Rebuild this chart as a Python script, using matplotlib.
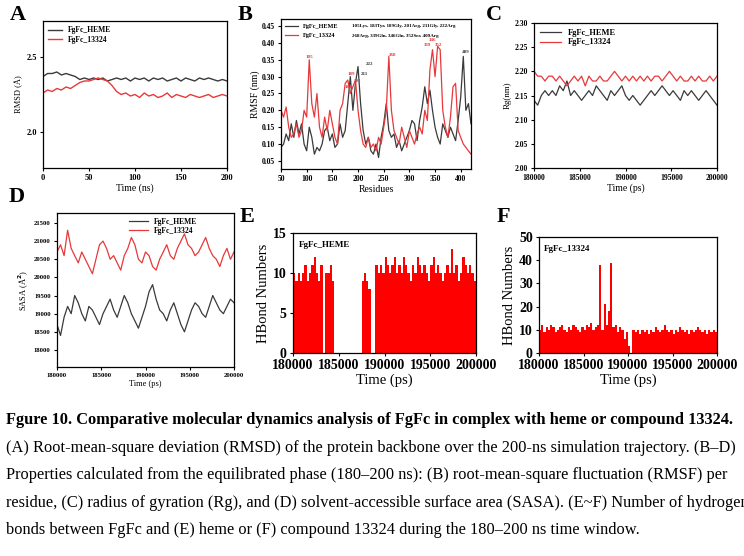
import numpy as np
import matplotlib.pyplot as plt

plt.rcParams['font.family'] = ['Liberation Serif', 'DejaVu Serif']
plt.rcParams['font.weight'] = 'bold'

# A: RMSD (every 5 ns)
rmsd_t = list(range(0, 201, 5))
rmsd_heme = [2.37,2.39,2.39,2.40,2.38,2.39,2.38,2.37,2.35,2.36,2.35,2.36,2.35,2.36,2.34,2.35,2.36,2.35,2.36,2.34,2.36,2.35,2.36,2.34,2.36,2.35,2.36,2.34,2.35,2.36,2.34,2.36,2.35,2.34,2.36,2.35,2.36,2.35,2.34,2.35,2.34]
rmsd_13324 = [2.26,2.28,2.27,2.29,2.28,2.30,2.29,2.31,2.33,2.34,2.34,2.35,2.36,2.35,2.34,2.31,2.27,2.25,2.26,2.24,2.25,2.23,2.26,2.24,2.25,2.23,2.24,2.26,2.23,2.25,2.24,2.23,2.25,2.24,2.23,2.24,2.25,2.23,2.24,2.25,2.24]

# B: RMSF (every 5 residues)
res = list(range(50, 421, 5))
rmsf_heme = [0.09,0.10,0.13,0.11,0.16,0.12,0.17,0.13,0.16,0.10,0.08,0.15,0.12,0.07,0.09,0.08,0.10,0.14,0.15,0.11,0.13,0.09,0.10,0.16,0.12,0.14,0.22,0.30,0.20,0.28,0.33,0.22,0.14,0.10,0.12,0.08,0.07,0.10,0.06,0.12,0.16,0.22,0.14,0.12,0.13,0.09,0.11,0.08,0.10,0.12,0.14,0.17,0.16,0.11,0.17,0.21,0.27,0.22,0.26,0.20,0.15,0.12,0.10,0.16,0.14,0.12,0.15,0.13,0.11,0.17,0.24,0.36,0.20,0.22,0.16]
rmsf_13324 = [0.20,0.18,0.21,0.15,0.12,0.13,0.16,0.12,0.14,0.20,0.18,0.35,0.22,0.18,0.25,0.15,0.12,0.18,0.14,0.20,0.16,0.12,0.10,0.20,0.22,0.28,0.29,0.25,0.27,0.29,0.20,0.14,0.10,0.09,0.12,0.09,0.10,0.08,0.12,0.10,0.15,0.20,0.36,0.20,0.14,0.12,0.10,0.15,0.12,0.09,0.14,0.12,0.10,0.13,0.15,0.13,0.20,0.17,0.32,0.38,0.30,0.39,0.38,0.20,0.15,0.12,0.18,0.27,0.28,0.14,0.12,0.10,0.09,0.08,0.07]

# C: Rg
t_ps = list(range(180000, 200001, 400))
rg_heme = [2.14,2.13,2.15,2.16,2.15,2.16,2.15,2.17,2.16,2.18,2.15,2.16,2.15,2.14,2.15,2.16,2.15,2.17,2.16,2.15,2.14,2.16,2.15,2.16,2.17,2.15,2.14,2.15,2.14,2.13,2.14,2.15,2.16,2.15,2.16,2.17,2.16,2.15,2.16,2.15,2.14,2.16,2.15,2.16,2.15,2.14,2.15,2.16,2.15,2.14,2.13]
rg_13324 = [2.20,2.19,2.19,2.18,2.19,2.19,2.18,2.19,2.18,2.17,2.18,2.19,2.18,2.19,2.17,2.19,2.18,2.18,2.19,2.18,2.18,2.19,2.20,2.19,2.18,2.19,2.18,2.19,2.18,2.19,2.18,2.19,2.18,2.19,2.19,2.18,2.19,2.20,2.19,2.18,2.19,2.18,2.18,2.19,2.18,2.19,2.18,2.18,2.19,2.18,2.19]

# D: SASA
sasa_13324 = [20700,20900,20600,21300,20800,20600,20400,20700,20500,20300,20100,20500,20900,21000,20800,20500,20600,20400,20200,20600,20800,21100,20900,20500,20400,20700,20600,20300,20200,20500,20700,20900,20600,20500,20800,21000,21200,20900,20800,20600,20700,20900,21100,20800,20600,20500,20300,20600,20800,20500,20700]
sasa_heme = [18700,18400,18900,19200,19000,19500,19300,19000,18800,19200,19100,18900,18700,19000,19200,19400,19100,18900,19200,19500,19300,19000,18800,18600,18900,19200,19600,19800,19400,19100,19000,18800,19100,19300,19000,18700,18500,18800,19100,19300,19200,19000,18900,19200,19500,19300,19100,19000,19200,19400,19300]

# E/F: H-bond numbers (every 250 ps)
hb_t = list(range(180000, 200000, 250))
hb_heme = [10,9,10,9,10,11,9,10,11,12,10,9,11,0,10,10,11,9,0,0,0,0,0,0,0,0,0,0,0,0,9,10,9,8,0,0,11,10,11,10,12,11,10,11,12,10,11,10,12,11,10,9,11,10,12,11,10,11,10,9,11,12,10,11,10,9,10,11,10,13,10,11,9,10,12,11,10,11,10,9]
hb_13324 = [10,12,9,11,10,12,11,9,10,11,12,10,9,11,10,12,11,10,9,11,10,12,11,13,10,11,12,38,10,21,12,18,39,11,12,9,11,10,6,9,3,0,10,9,10,8,10,9,10,8,10,9,11,10,9,10,12,10,9,10,8,10,9,11,10,9,10,8,10,9,10,11,10,9,10,8,10,9,10,9]

W, H = 744, 556
fig = plt.figure(figsize=(W/100, H/100), dpi=100)

def ax_at(x0, y0, x1, y1):
    return fig.add_axes([x0/W, 1-y1/H, (x1-x0)/W, (y1-y0)/H])

def style(ax, fs=6):
    ax.tick_params(labelsize=fs, width=0.8, length=2.5, pad=2)
    for s in ax.spines.values():
        s.set_linewidth(0.9)

BLK, RED = '#3a3a3a', '#e8383a'

# A
ax = ax_at(43, 21, 227, 168)
ax.plot(rmsd_t, rmsd_heme, color=BLK, lw=1.0, label='FgFc_HEME')
ax.plot(rmsd_t, rmsd_13324, color=RED, lw=1.0, label='FgFc_13324')
ax.set_xlim(0, 200); ax.set_ylim(1.76, 2.74)
ax.set_xticks([0,50,100,150,200]); ax.set_yticks([2.0,2.5])
ax.set_xlabel('Time (ns)', fontsize=7, labelpad=1); ax.set_ylabel('RMSD (Å)', fontsize=6, labelpad=2)
ax.legend(loc='upper left', fontsize=5.5, frameon=False, handlelength=1.8, borderpad=0.2, labelspacing=0.2)
style(ax)
fig.text(10/W, 1-15/H, 'A', fontsize=16, weight='bold', va='center')

# B
ax = ax_at(281, 19, 471, 169)
ax.plot(res, rmsf_heme, color=BLK, lw=0.9, label='FgFc_HEME')
ax.plot(res, rmsf_13324, color=RED, lw=0.9, label='FgFc_13324')
ax.set_xlim(50, 420); ax.set_ylim(0.026, 0.471)
ax.set_xticks(range(50, 401, 50)); ax.set_yticks(np.arange(0.05, 0.46, 0.05))
ax.set_xlabel('Residues', fontsize=7, labelpad=1); ax.set_ylabel('RMSF (nm)', fontsize=7, labelpad=1)
ax.legend(loc='upper left', fontsize=4.5, frameon=False, handlelength=2.0, borderpad=0.2, labelspacing=0.6)
ax.text(0.375, 0.955, '105Lys, 183Tyr, 189Gly, 201Arg, 211Gly, 222Arg', transform=ax.transAxes, fontsize=3.6, va='center')
ax.text(0.375, 0.885, '268Arg, 339Gln, 346Gln, 352Ser, 409Arg', transform=ax.transAxes, fontsize=3.6, va='center')
for x, y, c in [(105,0.355,RED),(180,0.265,RED),(186,0.305,RED),(200,0.285,RED),(212,0.305,BLK),(222,0.335,BLK),(268,0.36,RED),(336,0.39,RED),(346,0.405,RED),(357,0.39,RED),(409,0.37,BLK)]:
    ax.text(x, y, str(x if x not in (180,186,200,212,336,357) else {180:183,186:189,200:201,212:211,336:339,357:352}[x]), fontsize=3.6, color=c, ha='center')
style(ax, 5.5)
fig.text(238/W, 1-15/H, 'B', fontsize=16, weight='bold', va='center')

# C
ax = ax_at(534, 23, 717, 168)
ax.plot(t_ps, rg_heme, color=BLK, lw=0.9, label='FgFc_HEME')
ax.plot(t_ps, rg_13324, color=RED, lw=0.9, label='FgFc_13324')
ax.set_xlim(180000, 200000); ax.set_ylim(2.0, 2.3)
ax.set_xticks(range(180000, 200001, 5000)); ax.set_yticks(np.arange(2.0, 2.31, 0.05))
ax.set_xlabel('Time (ps)', fontsize=7, labelpad=1); ax.set_ylabel('Rg(nm)', fontsize=6.5, labelpad=2)
ax.legend(loc='upper left', fontsize=6, frameon=False, handlelength=2.5, borderpad=0.2, labelspacing=0.2)
style(ax, 5.5)
fig.text(486/W, 1-15/H, 'C', fontsize=16, weight='bold', va='center')

# D
ax = ax_at(57, 213, 234, 367)
ax.plot(t_ps, sasa_heme, color=BLK, lw=0.9, label='FgFc_HEME')
ax.plot(t_ps, sasa_13324, color=RED, lw=0.9, label='FgFc_13324')
ax.set_xlim(180000, 200000); ax.set_ylim(17530, 21775)
ax.set_xticks(range(180000, 200001, 5000)); ax.set_yticks(range(18000, 21501, 500))
ax.set_xlabel('Time (ps)', fontsize=6, labelpad=1); ax.set_ylabel('SASA (Å$^2$)', fontsize=6, labelpad=2)
ax.legend(loc='upper center', fontsize=5.5, frameon=False, handlelength=2.5, borderpad=0.1, labelspacing=0.2, bbox_to_anchor=(0.6, 1.0))
style(ax, 4.8)
fig.text(9/W, 1-197/H, 'D', fontsize=16, weight='bold', va='center')

# E
ax = ax_at(293, 233, 476, 353)
ax.bar(hb_t, hb_heme, width=250, color='#ff0000', align='edge', lw=0)
ax.set_xlim(180000, 200000); ax.set_ylim(0, 15)
ax.set_xticks(range(180000, 200001, 5000)); ax.set_yticks([0,5,10,15])
ax.set_xlabel('Time (ps)', fontsize=10.5, labelpad=1); ax.set_ylabel('HBond Numbers', fontsize=10.5, labelpad=2)
ax.text(0.03, 0.93, 'FgFc_HEME', transform=ax.transAxes, fontsize=6.5, va='top')
style(ax, 10)
fig.text(240/W, 1-217/H, 'E', fontsize=16, weight='bold', va='center')

# F
ax = ax_at(539, 237, 717, 353)
ax.bar(hb_t, hb_13324, width=250, color='#ff0000', align='edge', lw=0)
ax.set_xlim(180000, 200000); ax.set_ylim(0, 50)
ax.set_xticks(range(180000, 200001, 5000)); ax.set_yticks(range(0, 51, 10))
ax.set_xlabel('Time (ps)', fontsize=10.5, labelpad=1); ax.set_ylabel('HBond Numbers', fontsize=10.5, labelpad=2)
ax.text(0.03, 0.93, 'FgFc_13324', transform=ax.transAxes, fontsize=6.5, va='top')
style(ax, 10)
fig.text(497/W, 1-217/H, 'F', fontsize=16, weight='bold', va='center')

# Caption
fig.text(6/W, 1-420/H, 'Fgure 10. Comparative molecular dynamics analysis of FgFc in complex with heme or compound 13324.',
         fontsize=11.8, weight='bold', va='center')
lines = [
 '(A) Root-mean-square deviation (RMSD) of the protein backbone over the 200-ns simulation trajectory. (B–D)',
 'Properties calculated from the equilibrated phase (180–200 ns): (B) root-mean-square fluctuation (RMSF) per',
 'residue, (C) radius of gyration (Rg), and (D) solvent-accessible surface area (SASA). (E~F) Number of hydrogen',
 'bonds between FgFc and (E) heme or (F) compound 13324 during the 180–200 ns time window.',
]
for i, l in enumerate(lines):
    fig.text(6/W, 1-(448+27.3*i)/H, l, fontsize=11.8, weight='normal', va='center')

fig.savefig('out.png', dpi=100)
